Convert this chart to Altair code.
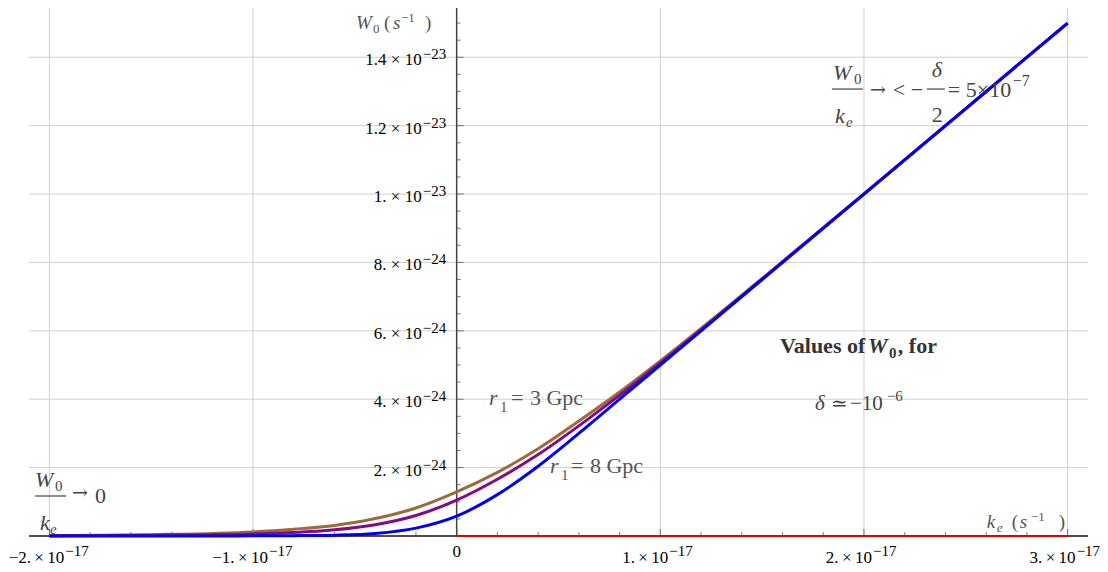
import altair as alt
import pandas as pd

FONT = "Liberation Serif"
FONT2 = "DejaVu Serif"

# ---- data: k_e in units of 1e-17 s^-1, W0 in units of 1e-24 s^-1 ----
k_vals = [-2.0, -1.5, -1.0, -0.8, -0.6, -0.4, -0.2, 0.0, 0.2, 0.4, 0.6, 0.8, 1.0, 1.5, 2.0, 2.5, 3.0]
w_brown = [0.01, 0.04, 0.12, 0.20, 0.31, 0.51, 0.82, 1.29, 1.86, 2.55, 3.36, 4.21, 5.12, 7.53, 10.01, 12.50, 15.00]
w_purple = [0.008, 0.025, 0.06, 0.10, 0.18, 0.33, 0.60, 1.05, 1.66, 2.38, 3.22, 4.12, 5.06, 7.51, 10.00, 12.50, 15.00]
w_blue = [0.0, 0.0, 0.005, 0.01, 0.025, 0.075, 0.23, 0.58, 1.21, 2.04, 3.00, 4.00, 5.00, 7.50, 10.00, 12.50, 15.00]
red_k = [0.0, 3.0]
red_w = [0.0, 0.0]

TS = "\u2009"  # thin space
x_tick_vals = [-2, -1, 0, 1, 2, 3]
x_tick_base = ["\u22122." + TS + "\u00d7" + TS + "10", "\u22121." + TS + "\u00d7" + TS + "10", "0",
               "1." + TS + "\u00d7" + TS + "10", "2." + TS + "\u00d7" + TS + "10", "3." + TS + "\u00d7" + TS + "10"]
x_tick_exp = ["\u221217", "\u221217", "", "\u221217", "\u221217", "\u221217"]
y_tick_vals = [2, 4, 6, 8, 10, 12, 14]
y_tick_base = ["2. \u00d7 10", "4. \u00d7 10", "6. \u00d7 10", "8. \u00d7 10", "1. \u00d7 10", "1.2 \u00d7 10", "1.4 \u00d7 10"]
y_tick_exp = ["\u221224", "\u221224", "\u221224", "\u221224", "\u221223", "\u221223", "\u221223"]
x_grid = [-2, -1, 1, 2, 3]
y_grid = [2, 4, 6, 8, 10, 12, 14]
x_minor = [round(-2 + 0.2 * i, 1) for i in range(26)]
y_minor = [round(0.5 * i, 1) for i in range(1, 31)]

XD = [-2.1, 3.1]
YD = [0, 15.44]
X = alt.X("k:Q", scale=alt.Scale(domain=XD, nice=False, zero=False), axis=None)
Y = alt.Y("w:Q", scale=alt.Scale(domain=YD, nice=False, zero=False), axis=None)


def px2k(px):
    return (px - 456.7) / 203.7


def py2w(py):
    return (536 - py) / 34.2


def T(px, py, s, size=17, color="#000", style="normal", weight="normal", align="left", font=FONT):
    df = pd.DataFrame({"k": [px2k(px)], "w": [py2w(py)], "t": [s]})
    return alt.Chart(df).mark_text(
        align=align, baseline="alphabetic", fontSize=size, font=font,
        fontStyle=style, fontWeight=weight, color=color
    ).encode(x=X, y=Y, text="t:N")


def bar(px1, px2, py, color="#444"):
    df = pd.DataFrame({"k": [px2k(px1)], "k2": [px2k(px2)], "w": [py2w(py)]})
    return alt.Chart(df).mark_rule(color=color, strokeWidth=1.2).encode(x=X, x2="k2:Q", y=Y)


layers = []

# grid
layers.append(alt.Chart(pd.DataFrame({"k": x_grid})).mark_rule(color="#cfcfcf", strokeWidth=1).encode(x=X))
layers.append(alt.Chart(pd.DataFrame({"w": y_grid})).mark_rule(color="#cfcfcf", strokeWidth=1).encode(y=Y))

# axes lines
layers.append(alt.Chart(pd.DataFrame({"w": [0]})).mark_rule(color="#111", strokeWidth=1.3).encode(y=Y))
layers.append(alt.Chart(pd.DataFrame({"k": [0]})).mark_rule(color="#444", strokeWidth=1.5).encode(x=X))

# ticks
xm = pd.DataFrame({"k": x_minor, "w": 0})
xm["major"] = xm["k"].apply(lambda v: abs(v - round(v)) < 1e-6)
layers.append(alt.Chart(xm[~xm["major"]]).mark_tick(orient="vertical", size=4, thickness=1, yOffset=-2, color="#444").encode(x=X, y=Y))
layers.append(alt.Chart(xm[xm["major"]]).mark_tick(orient="vertical", size=7, thickness=1, yOffset=-3.5, color="#444").encode(x=X, y=Y))
ym = pd.DataFrame({"w": y_minor, "k": 0})
ym["major"] = ym["w"].apply(lambda v: abs(v / 2 - round(v / 2)) < 1e-6)
layers.append(alt.Chart(ym[~ym["major"]]).mark_tick(orient="horizontal", size=4, thickness=1, xOffset=2, color="#444").encode(x=X, y=Y))
layers.append(alt.Chart(ym[ym["major"]]).mark_tick(orient="horizontal", size=7, thickness=1, xOffset=3.5, color="#444").encode(x=X, y=Y))

# curves
layers.append(alt.Chart(pd.DataFrame({"k": red_k, "w": red_w})).mark_line(color="#e00000", strokeWidth=2).encode(x=X, y=Y))
layers.append(alt.Chart(pd.DataFrame({"k": k_vals, "w": w_brown})).mark_line(color="#9c6b3c", strokeWidth=3, interpolate="monotone").encode(x=X, y=Y))
layers.append(alt.Chart(pd.DataFrame({"k": k_vals, "w": w_purple})).mark_line(color="#850a85", strokeWidth=3, interpolate="monotone").encode(x=X, y=Y))
layers.append(alt.Chart(pd.DataFrame({"k": k_vals, "w": w_blue})).mark_line(color="#0000f0", strokeWidth=3, interpolate="monotone").encode(x=X, y=Y))

# tick labels
xt = pd.DataFrame({"k": x_tick_vals, "w": 0, "base": x_tick_base, "exp": x_tick_exp})
neg = xt[xt["k"] < 0]
pos = xt[xt["k"] > 0]
zero = xt[xt["k"] == 0]
for sub, dxv in ((neg, 15), (pos, 8)):
    layers.append(alt.Chart(sub).mark_text(align="right", baseline="alphabetic", dx=dxv, dy=27, fontSize=17, font=FONT, color="#000").encode(x=X, y=Y, text="base:N"))
    layers.append(alt.Chart(sub).mark_text(align="left", baseline="alphabetic", dx=dxv + 1, dy=20, fontSize=15, font=FONT, color="#000").encode(x=X, y=Y, text="exp:N"))
layers.append(alt.Chart(zero).mark_text(align="center", baseline="alphabetic", dy=21, fontSize=17, font=FONT, color="#000").encode(x=X, y=Y, text="base:N"))

yt = pd.DataFrame({"k": 0, "w": y_tick_vals, "base": y_tick_base, "exp": y_tick_exp})
layers.append(alt.Chart(yt).mark_text(align="right", baseline="alphabetic", dx=-35, dy=8, fontSize=17, font=FONT, color="#000").encode(x=X, y=Y, text="base:N"))
layers.append(alt.Chart(yt).mark_text(align="left", baseline="alphabetic", dx=-34, dy=2, fontSize=15, font=FONT, color="#000").encode(x=X, y=Y, text="exp:N"))

G = "#555"
# y axis title  W0 ( s^-1 )
layers += [
    T(356, 29, "W", 19, G, "italic"), T(373, 33, "0", 13, G),
    T(384, 29, "(", 19, G), T(393, 29, "s", 19, G, "italic"),
    T(401, 22, "\u22121", 13, G), T(425, 29, ")", 19, G),
]
# x axis title  k_e ( s^-1 )
layers += [
    T(987, 528, "k", 19, G, "italic"), T(997, 532, "e", 13, G, "italic"),
    T(1012, 528, "(", 19, G), T(1020, 528, "s", 19, G, "italic"),
    T(1031, 521, "\u22121", 13, G), T(1059, 528, ")", 19, G),
]
A = "#444"
# left fraction W0/k_e -> 0
layers += [
    T(35, 487, "W", 22, A, "italic"), T(55, 491, "0", 15, A),
    bar(35, 66, 496, A),
    T(72, 499, "\u2192", 19, A, font=FONT2),
    T(95, 503, "0", 22, A),
    T(40, 530, "k", 22, A, "italic"), T(50, 534, "e", 15, A, "italic"),
]
# top right fraction
layers += [
    T(833, 80, "W", 22, A, "italic"), T(854, 84, "0", 15, A),
    bar(832, 863, 89, A),
    T(835, 123, "k", 22, A, "italic"), T(846, 127, "e", 15, A, "italic"),
    T(870, 96, "\u2192", 19, A, font=FONT2),
    T(893, 97, "<", 22, A),
    T(911, 97, "\u2212", 22, A),
    T(932, 77, "\u03b4", 22, A, "italic"),
    bar(927, 945, 89, A),
    T(932, 122, "2", 22, A),
    T(948, 97, "=", 22, A),
    T(966, 97, "5\u00d710", 22, A),
    T(1013, 86, "\u22127", 16, A),
]
# Values of W0, for
B = "#333"
layers += [
    T(780, 353, "Values of", 22, B, weight="bold"),
    T(868, 353, "W", 22, B, "italic", "bold"),
    T(889, 358, "0", 15, B, weight="bold"),
    T(898, 353, ", for", 22, B, weight="bold"),
]
# delta ~ -10^-6
layers += [
    T(815, 410, "\u03b4", 21, A, "italic"),
    T(831, 410, "\u2243", 20, A, font=FONT2),
    T(850, 410, "\u221210", 21, A),
    T(887, 401, "\u22126", 15, A),
]
# curve labels
layers += [
    T(489, 405, "r", 22, G, "italic"), T(500, 412, "1", 15, G),
    T(511, 405, "=", 22, G), T(530, 405, "3 Gpc", 22, G),
    T(550, 473, "r", 22, G, "italic"), T(561, 480, "1", 15, G),
    T(571, 473, "=", 22, G), T(590, 473, "8 Gpc", 22, G),
]

chart = alt.layer(*layers).properties(
    width=1059, height=528,
    padding={"left": 21, "top": 0, "right": 12, "bottom": 36},
    autosize=alt.AutoSizeParams(type="none"),
    background="white",
).configure_view(stroke=None)

chart.save("out.html", embed_options={"renderer": "svg", "actions": False})
